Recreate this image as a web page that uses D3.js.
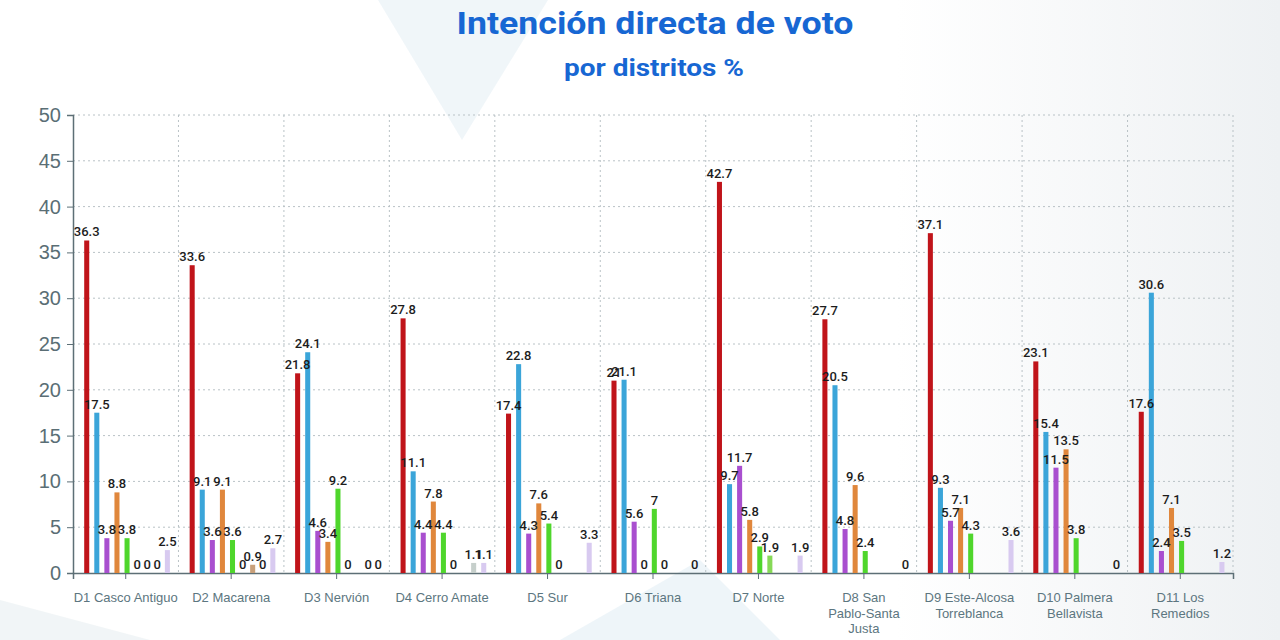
<!DOCTYPE html>
<html>
<head>
<meta charset="utf-8">
<script src="https://cdn.jsdelivr.net/npm/d3@7"></script>
<style>
html,body{margin:0;padding:0;background:#fff;}
svg{display:block;}
</style>
</head>
<body>
<svg id="chart" width="1280" height="640"></svg>
<script>
// ---- data ----
const categories = [
  ["D1 Casco Antiguo"],
  ["D2 Macarena"],
  ["D3 Nervión"],
  ["D4 Cerro Amate"],
  ["D5 Sur"],
  ["D6 Triana"],
  ["D7 Norte"],
  ["D8 San", "Pablo-Santa", "Justa"],
  ["D9 Este-Alcosa", "Torreblanca"],
  ["D10 Palmera", "Bellavista"],
  ["D11 Los", "Remedios"]
];
const seriesNames = ["S1", "S2", "S3", "S4", "S5", "S6", "S7", "S8", "S9"];
const seriesColors = ["#c0141a", "#3ba5d9", "#a94fcf", "#e0873c", "#4fd62c", "#86d957", "#c9a07a", "#c6cfcb", "#d8caf0"];
const s1 = [36.3, 33.6, 21.8, 27.8, 17.4, 21, 42.7, 27.7, 37.1, 23.1, 17.6];
const s2 = [17.5, 9.1, 24.1, 11.1, 22.8, 21.1, 9.7, 20.5, 9.3, 15.4, 30.6];
const s3 = [3.8, 3.6, 4.6, 4.4, 4.3, 5.6, 11.7, 4.8, 5.7, 11.5, 2.4];
const s4 = [8.8, 9.1, 3.4, 7.8, 7.6, 0, 5.8, 9.6, 7.1, 13.5, 7.1];
const s5 = [3.8, 3.6, 9.2, 4.4, 5.4, 7, 2.9, 2.4, 4.3, 3.8, 3.5];
const s6 = [0, 0, 0, 0, 0, 0, 1.9, null, null, null, null];
const s7 = [0, 0.9, null, null, null, null, null, null, null, null, null];
const s8 = [0, 0, 0, 1.1, null, null, null, null, null, null, null];
const s9 = [2.5, 2.7, 0, 1.1, 3.3, 0, 1.9, 0, 3.6, 0, 1.2];
const seriesValues = [s1, s2, s3, s4, s5, s6, s7, s8, s9];
const yTicks = [0, 5, 10, 15, 20, 25, 30, 35, 40, 45, 50];
const titleText = "Intención directa de voto";
const subtitleText = "por distritos %";

// ---- layout ----
const svg = d3.select("#chart");
const M = { left: 73, right: 1233, top: 115, bottom: 573 };

// background decoration
const defs = svg.append("defs");
const g1 = defs.append("linearGradient").attr("id","bgGrad").attr("x1","0").attr("y1","0").attr("x2","1").attr("y2","0");
g1.append("stop").attr("offset","0").attr("stop-color","#ffffff");
g1.append("stop").attr("offset","0.7").attr("stop-color","#ffffff");
g1.append("stop").attr("offset","1").attr("stop-color","#eef1f3");
svg.append("rect").attr("width",1280).attr("height",640).attr("fill","url(#bgGrad)");
svg.append("path").attr("d","M378,0 L548,0 L462,140 Z").attr("fill","#e9f2f7").attr("opacity",0.7);
svg.append("path").attr("d","M560,640 L700,560 L780,640 Z").attr("fill","#eaf3f8").attr("opacity",0.8);
svg.append("path").attr("d","M0,600 L150,640 L0,640 Z").attr("fill","#eef2f5").attr("opacity",0.8);

const x0 = d3.scaleBand().domain(d3.range(categories.length)).range([M.left, M.right]).padding(0);
const x1 = d3.scaleBand().domain(d3.range(seriesNames.length))
  .range([11.2, 96.9]).paddingInner(0.5).paddingOuter(0);
const y = d3.scaleLinear().domain([0, 50]).range([M.bottom, M.top]);

// horizontal grid
svg.append("g").selectAll("line").data(yTicks.filter(d => d > 0)).join("line")
  .attr("x1", M.left).attr("x2", M.right)
  .attr("y1", d => y(d)).attr("y2", d => y(d))
  .attr("stroke", "#b9c2c6").attr("stroke-width", 1).attr("stroke-dasharray", "2,3");
// vertical grid at category boundaries
svg.append("g").selectAll("line").data(d3.range(1, categories.length + 1)).join("line")
  .attr("x1", d => x0.step() * d + M.left).attr("x2", d => x0.step() * d + M.left)
  .attr("y1", M.top).attr("y2", M.bottom)
  .attr("stroke", "#b9c2c6").attr("stroke-width", 1).attr("stroke-dasharray", "2,3");

// y axis
const yAxis = d3.axisLeft(y).tickValues(yTicks).tickSize(6).tickPadding(6);
const ya = svg.append("g").attr("transform", `translate(${M.left},0)`).call(yAxis);
ya.select(".domain").attr("stroke", "#5d6f76").attr("stroke-width", 1.5);
ya.selectAll(".tick line").attr("stroke", "#5d6f76");
ya.selectAll(".tick text").attr("fill", "#5a6e75").attr("font-family", "'Liberation Sans', Arial, sans-serif").attr("font-size", 20);

// x axis
const xAxis = d3.axisBottom(x0).tickSize(6).tickFormat(() => "");
const xa = svg.append("g").attr("transform", `translate(0,${M.bottom})`).call(xAxis);
xa.select(".domain").attr("stroke", "#5d6f76").attr("stroke-width", 1.5);
xa.selectAll(".tick line").attr("stroke", "#5d6f76");

// category labels
const lab = svg.append("g").selectAll("text").data(categories).join("text")
  .attr("x", (d, i) => x0(i) + x0.bandwidth() / 2)
  .attr("y", 602)
  .attr("text-anchor", "middle")
  .attr("fill", "#5c7680")
  .attr("font-family", "'Liberation Sans', Arial, sans-serif")
  .attr("font-size", 13);
lab.selectAll("tspan").data(d => d).join("tspan")
  .attr("x", function () { return d3.select(this.parentNode).attr("x"); })
  .attr("dy", (d, i) => i === 0 ? 0 : 15.5)
  .text(d => d);

// bars
const flat = [];
seriesValues.forEach((arr, s) => arr.forEach((v, c) => { if (v !== null) flat.push({ s, c, v }); }));
const bars = svg.append("g");
bars.selectAll("rect").data(flat).join("rect")
  .attr("x", d => x0(d.c) + x1(d.s))
  .attr("width", x1.bandwidth())
  .attr("y", d => y(d.v))
  .attr("height", d => y(0) - y(d.v))
  .attr("fill", d => seriesColors[d.s]);
bars.selectAll("text").data(flat).join("text")
  .attr("x", d => x0(d.c) + x1(d.s) + x1.bandwidth() / 2)
  .attr("y", d => y(d.v) - 4)
  .attr("text-anchor", "middle")
  .attr("fill", "#1c1c1c")
  .attr("font-family", "Roboto, 'Liberation Sans', sans-serif")
  .attr("font-size", 13)
  .attr("font-weight", 500)
  .text(d => d.v);

// titles
svg.append("text").attr("x", 655).attr("y", 34).attr("text-anchor", "middle")
  .attr("fill", "#1767d3").attr("font-family", "Roboto, sans-serif").attr("font-weight", 700)
  .attr("font-size", 32).attr("textLength", 397).attr("lengthAdjust", "spacingAndGlyphs")
  .text(titleText);
svg.append("text").attr("x", 654).attr("y", 76).attr("text-anchor", "middle")
  .attr("fill", "#1767d3").attr("font-family", "Roboto, sans-serif").attr("font-weight", 700)
  .attr("font-size", 23).attr("textLength", 180).attr("lengthAdjust", "spacingAndGlyphs")
  .text(subtitleText);
</script>
</body>
</html>
